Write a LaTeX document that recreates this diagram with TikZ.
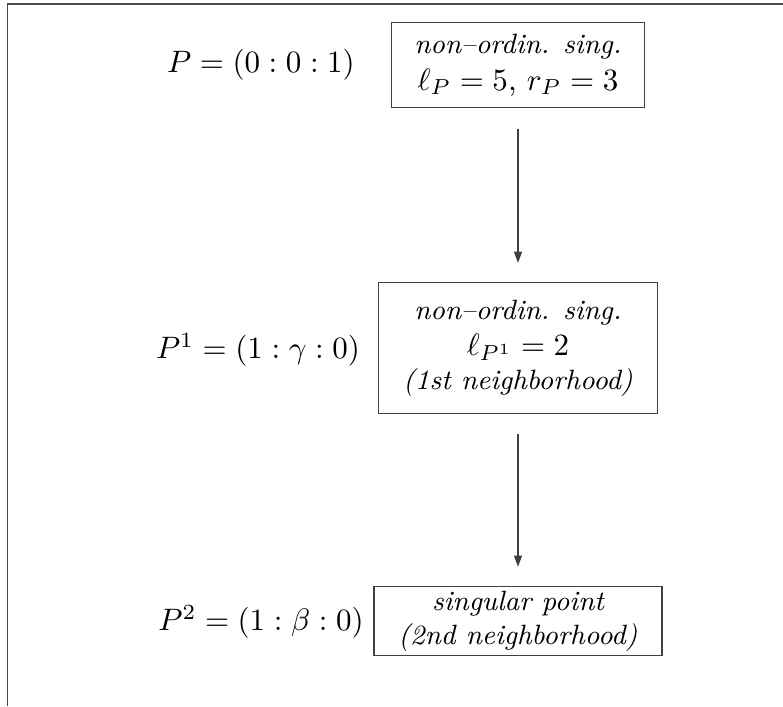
\documentclass[tikz,border=0pt]{standalone}
\usetikzlibrary{arrows.meta}
\newcommand{\mathline}[1]{{\normalsize\upshape #1}}
\begin{document}
\begin{tikzpicture}[x=0.3226pt,y=-0.3226pt,
  box/.style={draw=black!75, line width=0.35pt, align=center, inner sep=0pt, font=\small\itshape},
  arr/.style={draw=black!75, -{Triangle[length=3.6pt,width=2.6pt]}, line width=0.35pt, shorten >=6.2pt, shorten <=6.5pt}]
\useasboundingbox (0,0) rectangle (783,706);
\draw[draw=black!70, line width=0.35pt] (7.5,706) -- (7.5,4) -- (783,4);
\node[box, minimum width=81.9pt, minimum height=27.7pt] (b1) at (518,65)
  {non--ordin. sing.\\[1pt] \mathline{$\ell_P=5$, $r_P=3$}};
\node[box, minimum width=90pt, minimum height=42.2pt] (b2) at (518,348)
  {non--ordin. sing.\\[0.5pt] \mathline{$\ell_{P^1}=2$}\\ (1st neighborhood)};
\node[box, minimum width=92.9pt, minimum height=22.3pt] (b3) at (518,621)
  {singular point\\ (2nd neighborhood)};
\node (l1) at (261,65) {$P=(0:0:1)$};
\node (l2) at (258,350) {$P^1=(1:\gamma:0)$};
\node (l3) at (261,622) {$P^2=(1:\beta:0)$};
\draw[arr] (b1) -- (b2);
\draw[arr] (b2) -- (b3);
\end{tikzpicture}
\end{document}
